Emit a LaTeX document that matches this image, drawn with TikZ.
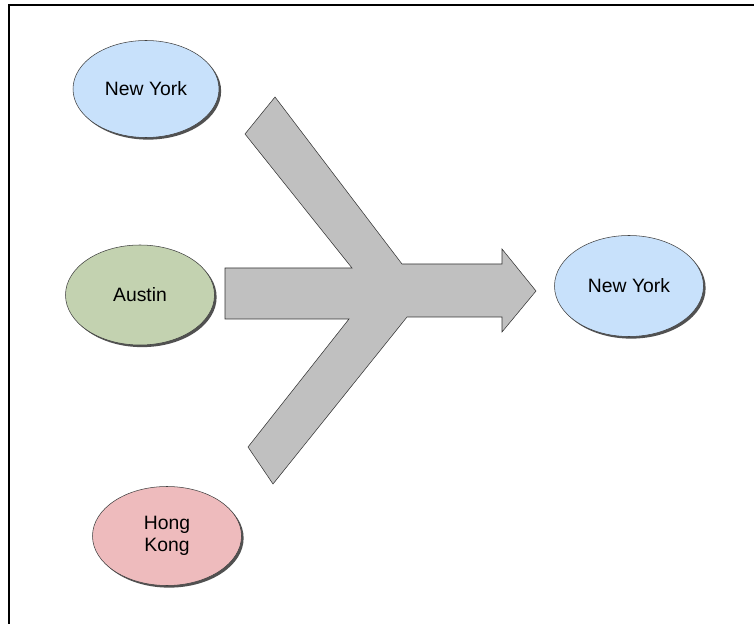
\documentclass[tikz,border=0pt]{standalone}
\usepackage{fontspec}
\setmainfont{Liberation Sans}
\usepackage{tikz}
\usetikzlibrary{shapes.geometric,shadows}
\definecolor{nyblue}{HTML}{C8E1FB}
\definecolor{augreen}{HTML}{C3D2B0}
\definecolor{hkpink}{HTML}{EEBBBD}
\definecolor{arrowgray}{HTML}{C0C0C0}
\tikzset{city/.style={ellipse,draw=black!75,thin,minimum width=146\pxu,minimum height=97\pxu,inner sep=0pt,align=center,
  font=\fontsize{14.5}{16.5}\selectfont,
  drop shadow={shadow xshift=1.6pt,shadow yshift=-1.6pt,fill=black!85,opacity=0.8}}}
\newlength{\pxu}
\setlength{\pxu}{0.75pt}

\begin{document}
\begin{tikzpicture}[x=0.75pt,y=-0.75pt]
\useasboundingbox (0,0) rectangle (754,624);
\draw[thick] (9,624) -- (9,5) -- (754,5);
\fill[arrowgray] (275,97) -- (245,134) -- (352,268) -- (225,268) -- (225,319) -- (349,319)
  -- (248,447) -- (273,484) -- (407,317) -- (502,317) -- (502,332) -- (536,291)
  -- (502,249) -- (502,264) -- (402,264) -- cycle;
\draw[black!80,line join=miter] (275,97) -- (245,134) -- (352,268) -- (225,268) -- (225,319) -- (349,319)
  -- (248,447) -- (273,484) -- (407,317) -- (502,317) -- (502,332) -- (536,291)
  -- (502,249) -- (502,264) -- (402,264) -- cycle;
\node[city,fill=nyblue] (newyork) at (146,89) {New York};
\node[city,fill=augreen,minimum width=149\pxu,minimum height=100\pxu] (austin) at (140,295) {Austin};
\node[city,fill=hkpink,minimum width=149\pxu,minimum height=99\pxu] (hongkong) at (167,536) {Hong\\Kong};
\node[city,fill=nyblue,minimum width=149\pxu,minimum height=101\pxu] (target) at (629,286) {New York};
\end{tikzpicture}
\end{document}
